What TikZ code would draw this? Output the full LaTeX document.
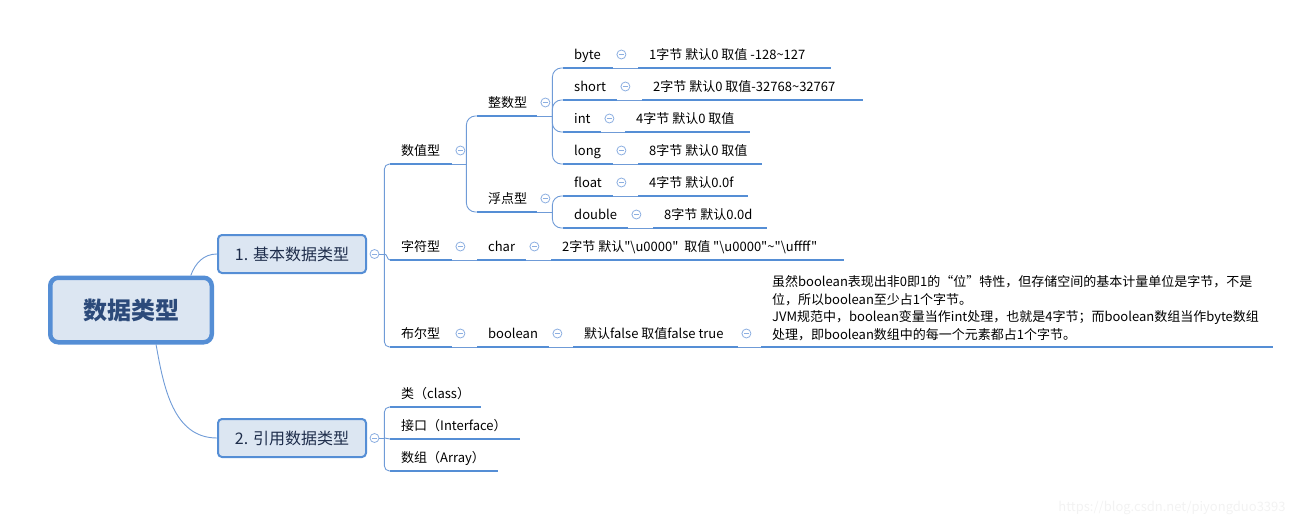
\documentclass[tikz,border=0pt]{standalone}
\usepackage{fontspec}
\newfontfamily\cjk{Noto Sans CJK SC}
\usetikzlibrary{calc}

\definecolor{lineblue}{RGB}{85,142,213}
\definecolor{linkblue}{RGB}{111,155,215}
\definecolor{foldblue}{RGB}{140,175,225}
\definecolor{boxfill}{RGB}{220,230,242}
\definecolor{rootink}{RGB}{44,74,122}
\definecolor{mainink}{RGB}{30,45,75}

% one underlined topic: name, left x, right x, line y, text
\newcommand\topic[5]{%
  \pgfmathsetmacro\boxw{#3-#2-22}%
  \node[topic, anchor=south west] (#1) at (#2,#4) {\makebox[\boxw pt][l]{#5}};%
}
% collapse mark above the end of a topic line
\newcommand\fold[1]{%
  \node[fold] (#1-f) at ($(#1.south east)+(8,-13.5)$) {};%
}

\begin{document}
\begin{tikzpicture}[x=1pt,y=-1pt,
  font=\cjk\fontsize{13}{17.6}\selectfont,
  link/.style={draw=linkblue,line width=0.9pt},
  uline/.style={draw=lineblue,line width=2.4pt},
  topic/.style={inner xsep=11pt,inner ysep=5.5pt,text height=10pt,text depth=3pt,
    append after command={(\tikzlastnode.south west) edge[uline] (\tikzlastnode.south east)}},
  notebox/.style={inner xsep=11pt,inner ysep=6pt,text width=490pt,align=left,
    append after command={(\tikzlastnode.south west) edge[uline] (\tikzlastnode.south east)}},
  fold/.style={circle,draw=foldblue,fill=white,line width=0.8pt,minimum size=9pt,inner sep=0pt,
    path picture={\draw[foldblue,line width=0.8pt]
      ([xshift=-2.5pt]path picture bounding box.center) -- ([xshift=2.5pt]path picture bounding box.center);}},
  rootbox/.style={draw=lineblue,line width=4.5pt,fill=boxfill,rounded corners=8pt,
    minimum width=161.5pt,minimum height=64.5pt,text=rootink,
    font=\cjk\bfseries\fontsize{24}{28}\selectfont},
  mainbox/.style={draw=lineblue,line width=2pt,fill=boxfill,rounded corners=4pt,
    minimum width=148pt,minimum height=38pt,text=mainink,
    font=\cjk\fontsize{16}{19}\selectfont}]
  \useasboundingbox (0,0) rectangle (1309,527);

  % root and the two main branches
  \node[rootbox] (root) at (131,310) {数据类型};
  \node[mainbox] (basic) at (292,254) {1. 基本数据类型};
  \node[mainbox] (ref) at (292,438) {2. 引用数据类型};
  \draw[link] (root.30) to[out=70,in=180] (basic.west);
  \draw[link] (root.-54) to[out=-80,in=180] (ref.west);
  \node[fold] (basic-f) at ($(basic.east)+(7.5,0)$) {};
  \node[fold] (ref-f) at ($(ref.east)+(7.5,0)$) {};

  % basic types
  \topic{num}{390}{452}{164}{数值型}
  \topic{chr}{390}{452}{260}{字符型}
  \topic{bool}{390}{452}{347}{布尔型}
  \topic{intg}{477}{537}{116}{整数型}
  \topic{flt}{477}{537}{212}{浮点型}
  \topic{byte}{563}{613}{68}{byte}
  \topic{short}{563}{617}{100}{short}
  \topic{int}{563}{601}{132}{int}
  \topic{long}{563}{613}{164}{long}
  \topic{float}{563}{613}{196}{float}
  \topic{double}{563}{628}{228}{double}
  \topic{vbyte}{638}{831}{68}{1字节 默认0 取值 -128\textasciitilde127}
  \topic{vshort}{642}{863}{100}{2字节 默认0 取值-32768\textasciitilde32767}
  \topic{vint}{625}{750}{132}{4字节 默认0 取值}
  \topic{vlong}{638}{762}{164}{8字节 默认0 取值}
  \topic{vfloat}{638}{748}{196}{4字节 默认0.0f}
  \topic{vdouble}{653}{767}{228}{8字节 默认0.0d}
  \topic{char}{477}{526}{260}{char}
  \topic{vchar}{551}{844}{260}{2字节 默认"\textbackslash u0000"\ \ 取值 "\textbackslash u0000"\textasciitilde"\textbackslash uffff"}
  \topic{boolean}{477}{549}{347}{boolean}
  \topic{vbool}{573}{738}{347}{默认false 取值false true}
  \node[notebox, anchor=south west] (note) at (761,347)
    {虽然boolean表现出非0即1的“位”特性，但存储空间的基本计量单位是字节，不是\\
     位，所以boolean至少占1个字节。\\
     JVM规范中，boolean变量当作int处理，也就是4字节；而boolean数组当作byte数组\\
     处理，即boolean数组中的每一个元素都占1个字节。};

  % reference types
  \topic{cls}{390}{481}{407}{类（class）}
  \topic{itf}{390}{520}{439}{接口（Interface）}
  \topic{arr}{390}{498}{471}{数组（Array）}

  \foreach \n in {num,chr,bool,intg,flt,byte,short,int,long,float,double,char,boolean,vbool}
    \fold{\n};

  % brackets
  \coordinate (j1) at ($(basic-f.east)+(5,0)$);
  \draw[link] (basic-f.east) -- (j1);
  \draw[link,rounded corners=5pt] (j1) |- (num.south west);
  \draw[link,rounded corners=5pt] (j1) |- (bool.south west);
  \draw[link] (j1) to[out=0,in=180] (chr.south west);

  \coordinate (j2) at ($(ref-f.east)+(5,0)$);
  \draw[link] (ref-f.east) -- (j2);
  \draw[link,rounded corners=5pt] (j2) |- (cls.south west);
  \draw[link,rounded corners=5pt] (j2) |- (arr.south west);
  \draw[link] (j2) -- (itf.south west);

  \coordinate (jnum) at ($(num.south east)+(14,0)$);
  \draw[link] (num.south east) -- (jnum);
  \draw[link,rounded corners=9pt] (jnum) |- (intg.south west);
  \draw[link,rounded corners=9pt] (jnum) |- (flt.south west);

  \coordinate (jint) at ($(intg.south east)+(15,0)$);
  \draw[link] (intg.south east) -- (jint);
  \foreach \n in {byte,short,int,long}
    \draw[link,rounded corners=9pt] (jint) |- (\n.south west);

  \coordinate (jflt) at ($(flt.south east)+(15,0)$);
  \draw[link] (flt.south east) -- (jflt);
  \foreach \n in {float,double}
    \draw[link,rounded corners=9pt] (jflt) |- (\n.south west);

  % rows
  \foreach \a/\b in {byte/vbyte,short/vshort,int/vint,long/vlong,float/vfloat,double/vdouble,
      chr/char,char/vchar,bool/boolean,boolean/vbool,vbool/note}
    \draw[link] (\a.south east) -- (\b.south west);

  \node[text=gray!10] (mark) at (1172,508) {https://blog.csdn.net/piyongduo3393};
\end{tikzpicture}
\end{document}
